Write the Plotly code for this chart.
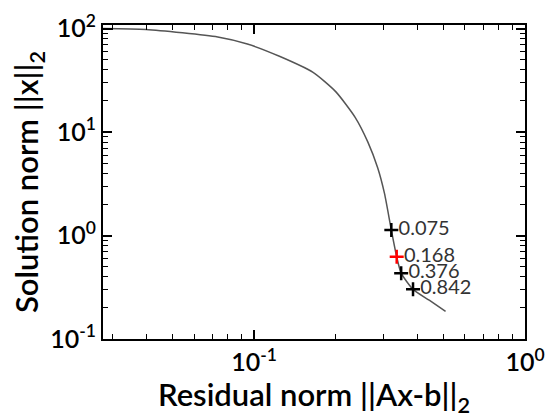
import math
import plotly.graph_objects as go

# L-curve: residual norm vs. solution norm
residual_norm = [0.0277, 0.0399, 0.0734, 0.0944, 0.124, 0.165, 0.200, 0.236,
                 0.263, 0.286, 0.303, 0.321, 0.336, 0.349, 0.386, 0.443, 0.509]
solution_norm = [100, 98, 83, 71, 54, 37.7, 24.6, 13.9,
                 8.0, 4.5, 2.54, 1.13, 0.622, 0.433, 0.302, 0.237, 0.185]

# regularization parameters marked on the curve
lambda_labels = ["0.075", "0.168", "0.376", "0.842"]
lambda_res = [0.321, 0.336, 0.349, 0.386]
lambda_sol = [1.13, 0.622, 0.433, 0.302]
lambda_colors = ["black", "red", "black", "black"]

# axis ranges (log10 units) and tick positions
x_range = [-1.558, 0]
y_range = [-1, 2.035]
major_x = [0.1, 1]
major_y = [0.1, 1, 10, 100]
minor_x = [0.03, 0.04, 0.05, 0.06, 0.07, 0.08, 0.09,
           0.2, 0.3, 0.4, 0.5, 0.6, 0.7, 0.8, 0.9]
minor_y = [m * d for d in (0.1, 1, 10) for m in range(2, 10)]

FONT = "Lato"

fig = go.Figure()
fig.add_trace(go.Scatter(
    x=residual_norm, y=solution_norm, mode="lines",
    line=dict(color="#555555", width=1.5, shape="spline", smoothing=0.6),
    hoverinfo="skip", showlegend=False,
))
fig.add_trace(go.Scatter(
    x=lambda_res, y=lambda_sol, mode="markers+text",
    text=lambda_labels, textposition="middle right",
    textfont=dict(family=FONT, size=20, color="#333333"),
    marker=dict(symbol="cross-thin", size=10,
                line=dict(width=2.5, color=lambda_colors), color=lambda_colors),
    showlegend=False,
))
# invisible trace that anchors the top/right frame axes
fig.add_trace(go.Scatter(
    x=[residual_norm[0]], y=[solution_norm[0]], xaxis="x2", yaxis="y2",
    mode="markers", marker=dict(opacity=0), hoverinfo="skip", showlegend=False,
))


def pow_label(v):
    e = int(round(math.log10(v)))
    return f"10<sup>{e}</sup>"


tick_style = dict(ticks="inside", ticklen=9, tickwidth=1.5, tickcolor="black")
minor_style = dict(tickmode="array", ticks="inside", ticklen=5,
                   tickwidth=1.2, tickcolor="black")
axis_common = dict(
    type="log", showgrid=False, zeroline=False,
    showline=True, linecolor="black", linewidth=2,
    tickfont=dict(family=FONT, size=25, color="black", weight=600),
    title_font=dict(family=FONT, size=31, color="black", weight=600),
    ticklabeloverflow="allow",
    **tick_style,
)

fig.update_layout(
    xaxis=dict(
        **axis_common, range=x_range,
        tickmode="array", tickvals=major_x,
        ticktext=[pow_label(v) for v in major_x],
        minor=dict(tickvals=minor_x, **minor_style),
        title=dict(text="Residual norm ||Ax-b||<sub>2</sub>", standoff=4),
    ),
    yaxis=dict(
        **axis_common, range=y_range,
        tickmode="array", tickvals=major_y,
        ticktext=[pow_label(v) for v in major_y],
        minor=dict(tickvals=minor_y, **minor_style),
        title=dict(text="Solution norm ||x||<sub>2</sub>", standoff=2),
    ),
    xaxis2=dict(
        type="log", range=x_range, overlaying="x", side="top", anchor="y2",
        showgrid=False, zeroline=False, showline=True, linecolor="black",
        linewidth=2, showticklabels=False,
        tickmode="array", tickvals=major_x,
        minor=dict(tickvals=minor_x, **minor_style), **tick_style,
    ),
    yaxis2=dict(
        type="log", range=y_range, overlaying="y", side="right", anchor="x2",
        showgrid=False, zeroline=False, showline=True, linecolor="black",
        linewidth=2, showticklabels=False,
        tickmode="array", tickvals=major_y,
        minor=dict(tickvals=minor_y, **minor_style), **tick_style,
    ),
    width=555, height=418,
    margin=dict(l=103, r=23, t=10, b=79),
    plot_bgcolor="white", paper_bgcolor="white",
)

fig.write_html("out.html")
